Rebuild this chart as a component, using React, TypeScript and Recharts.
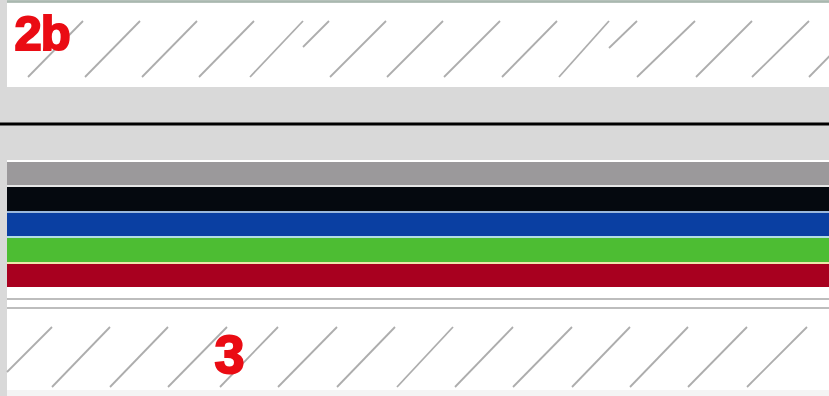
import { ComposedChart, XAxis, YAxis, ReferenceArea, ReferenceLine, ReferenceDot } from 'recharts';

// page-space coordinates (x right, y down) of the scanned test strip
const WIDTH = 829;
const HEIGHT = 396;

const panels = [
  { x0: 7, x1: 829, y0: 3, y1: 87, fill: '#ffffff' },
  { x0: 7, x1: 829, y0: 160, y1: 390, fill: '#ffffff' },
  { x0: 7, x1: 829, y0: 390, y1: 396, fill: '#f4f4f4' },
];

const bandColors = ['#9b999b', '#05090f', '#0a3fa2', '#4dbd33', '#a8001f'];
const bandTops = [162, 187, 213, 238, 264];
const bandBottoms = [185, 211, 236, 262, 287];

const seamColors = ['#e6e6e6', '#9bb8dc', '#b2dde3', '#ece6aa'];
const seamTops = [185, 211, 236, 262];
const seamBottoms = [187, 213, 238, 264];

const ruleYs = [299, 308];

// top strip hatch: bottom x at y=77, top x at y=21
const topHatchBottom = [28, 85, 142, 199, 250, 330, 387, 444, 502, 559, 637, 696, 752, 809];
const topHatchTop = [83, 140, 197, 254, 303, 386, 443, 500, 557, 609, 695, 752, 809, 864];
// the two short strokes
const shortHatch = [
  [303, 47, 329, 21],
  [609, 48, 637, 21],
];

// bottom strip hatch: bottom x at y=387, top x at y=327
const lowHatchBottom = [7, 52, 110, 168, 220, 278, 337, 397, 455, 513, 572, 630, 688, 747];
const lowHatchBottomY = [372, 387, 387, 387, 387, 387, 387, 387, 387, 387, 387, 387, 387, 387];
const lowHatchTop = [52, 110, 168, 227, 278, 337, 395, 453, 513, 572, 630, 688, 747, 807];

const marks = [
  { text: '2b', x: 42, y: 33, size: 49 },
  { text: '3', x: 229, y: 354, size: 54 },
];

const HATCH = '#adadad';
const RED = '#ea0c14';

export default function App() {
  return (
    <div style={{ position: 'absolute', left: 0, top: 0, width: WIDTH, height: HEIGHT, background: '#d9d9d9' }}>
      <ComposedChart width={WIDTH} height={HEIGHT} data={[]} margin={{ top: 0, right: 0, bottom: 0, left: 0 }}>
        <XAxis type="number" dataKey="x" domain={[0, WIDTH]} hide allowDataOverflow />
        <YAxis type="number" dataKey="y" domain={[0, HEIGHT]} reversed hide width={0} allowDataOverflow />

        {panels.map((p, i) => (
          <ReferenceArea key={`panel-${i}`} x1={p.x0} x2={p.x1} y1={p.y0} y2={p.y1} fill={p.fill} fillOpacity={1} stroke="none" ifOverflow="visible" />
        ))}

        <ReferenceLine segment={[{ x: 7, y: 1.5 }, { x: WIDTH, y: 1.5 }]} stroke="#a9b8af" strokeWidth={2.5} ifOverflow="visible" />
        <ReferenceLine y={124} stroke="#000000" strokeWidth={3} ifOverflow="visible" />

        {bandColors.map((c, i) => (
          <ReferenceArea key={`band-${i}`} x1={7} x2={WIDTH} y1={bandTops[i]} y2={bandBottoms[i]} fill={c} fillOpacity={1} stroke="none" ifOverflow="visible" />
        ))}
        {seamColors.map((c, i) => (
          <ReferenceArea key={`seam-${i}`} x1={7} x2={WIDTH} y1={seamTops[i]} y2={seamBottoms[i]} fill={c} fillOpacity={1} stroke="none" ifOverflow="visible" />
        ))}
        {ruleYs.map((y) => (
          <ReferenceLine key={`rule-${y}`} segment={[{ x: 7, y }, { x: WIDTH, y }]} stroke="#a7a7a7" strokeWidth={1.5} ifOverflow="visible" />
        ))}

        {topHatchBottom.map((b, i) => (
          <ReferenceLine key={`th-${i}`} segment={[{ x: b, y: 77 }, { x: topHatchTop[i], y: 21 }]} stroke={HATCH} strokeWidth={1.8} ifOverflow="visible" />
        ))}
        {shortHatch.map((s, i) => (
          <ReferenceLine key={`sh-${i}`} segment={[{ x: s[0], y: s[1] }, { x: s[2], y: s[3] }]} stroke={HATCH} strokeWidth={1.8} ifOverflow="visible" />
        ))}
        {lowHatchBottom.map((b, i) => (
          <ReferenceLine key={`lh-${i}`} segment={[{ x: b, y: lowHatchBottomY[i] }, { x: lowHatchTop[i], y: 327 }]} stroke={HATCH} strokeWidth={1.8} ifOverflow="visible" />
        ))}

        {marks.map((m) => (
          <ReferenceDot
            key={m.text}
            x={m.x}
            y={m.y}
            r={0}
            stroke="none"
            fill="none"
            ifOverflow="visible"
            label={{
              value: m.text,
              position: 'center',
              fill: RED,
              stroke: RED,
              strokeWidth: 2,
              fontSize: m.size,
              fontWeight: 700,
              fontFamily: 'Liberation Sans, Arial, sans-serif',
              letterSpacing: -1,
            }}
          />
        ))}
      </ComposedChart>
    </div>
  );
}
